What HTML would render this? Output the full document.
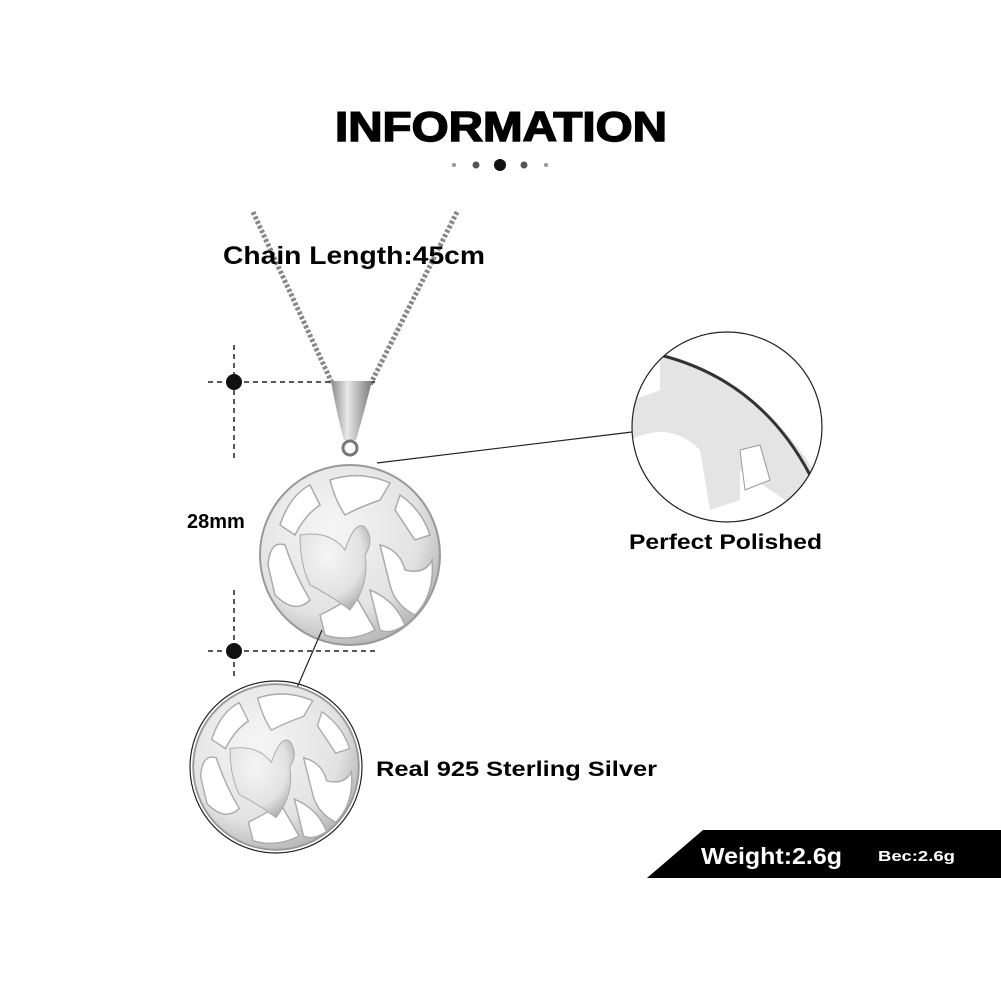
<!DOCTYPE html>
<html><head><meta charset="utf-8"><style>
html,body{margin:0;padding:0;background:#fff;}
svg{display:block}
text{font-family:"Liberation Sans",sans-serif;font-weight:bold;}
</style></head><body>
<svg width="1001" height="1001" viewBox="0 0 1001 1001" xmlns="http://www.w3.org/2000/svg">
<defs>
<radialGradient id="sil" cx="40%" cy="35%" r="70%">
<stop offset="0" stop-color="#f6f6f6"/><stop offset="0.7" stop-color="#e2e2e2"/><stop offset="1" stop-color="#b0b0b0"/>
</radialGradient>
<linearGradient id="bail" x1="0" x2="1"><stop offset="0" stop-color="#8a8a8a"/><stop offset="0.4" stop-color="#e8e8e8"/><stop offset="1" stop-color="#7a7a7a"/></linearGradient>
<g id="pend">
<circle cx="0" cy="0" r="90" fill="url(#sil)" stroke="#999" stroke-width="2"/>
<g fill="#fff" stroke="#aaa" stroke-width="1.5">
<path d="M-70,-30 Q-60,-60 -40,-70 L-30,-50 Q-45,-40 -55,-20 Z"/>
<path d="M-20,-75 Q10,-85 40,-72 L30,-55 Q10,-48 -5,-40 Q-15,-55 -20,-75 Z"/>
<path d="M50,-60 Q72,-45 80,-20 L65,-15 Q55,-30 45,-45 Z"/>
<path d="M-82,10 Q-80,-15 -65,-10 Q-55,20 -40,45 Q-55,60 -75,40 Z"/>
<path d="M30,-10 Q50,-5 55,15 Q75,20 82,5 Q85,40 65,60 Q45,50 40,30 Z"/>
<path d="M-30,60 Q-10,50 5,40 L25,75 Q0,88 -25,80 Z"/>
<path d="M20,35 Q45,45 55,70 Q40,80 30,75 Z"/>
</g>
<g fill="url(#sil)" stroke="#aaa" stroke-width="1"><path d="M-50,-20 Q-20,-25 -5,-5 Q5,-35 15,-28 Q25,-15 15,0 Q20,30 0,55 Q-20,40 -40,30 Q-50,10 -50,-20 Z"/></g>
</g>
</defs>

<text x="335" y="141" font-size="42" textLength="332" lengthAdjust="spacingAndGlyphs" stroke="#000" stroke-width="1.5">INFORMATION</text>
<circle cx="454" cy="165" r="2" fill="#999"/><circle cx="476" cy="165" r="3.5" fill="#555"/><circle cx="500" cy="165" r="6" fill="#111"/><circle cx="524" cy="165" r="3.5" fill="#555"/><circle cx="546" cy="165" r="2" fill="#999"/>

<!-- chain -->
<path d="M253,212 L332,383" stroke="#888" stroke-width="5" stroke-dasharray="3 2"/>
<path d="M457,212 L370,385" stroke="#888" stroke-width="5" stroke-dasharray="3 2"/>
<text x="223" y="264" font-size="25" textLength="262" lengthAdjust="spacingAndGlyphs">Chain Length:45cm</text>

<!-- dimension lines -->
<g stroke="#222" stroke-width="1.5" stroke-dasharray="5 4" fill="none">
<line x1="234" y1="345" x2="234" y2="462"/><line x1="208" y1="382" x2="375" y2="382"/>
<line x1="234" y1="590" x2="234" y2="680"/><line x1="208" y1="651" x2="375" y2="651"/>
</g>
<circle cx="234" cy="382" r="8" fill="#111"/><circle cx="234" cy="651" r="8" fill="#111"/>
<text x="187" y="528" font-size="20">28mm</text>

<!-- bail -->
<path d="M331,381 L372,381 Q362,420 356,440 L344,440 Q338,420 331,381 Z" fill="url(#bail)"/>
<circle cx="350" cy="448" r="7" fill="none" stroke="#777" stroke-width="3"/>

<!-- main pendant -->
<use href="#pend" transform="translate(350,555)"/>

<!-- connectors -->
<line x1="377" y1="463" x2="632" y2="432" stroke="#222" stroke-width="1.2"/>
<line x1="322" y1="630" x2="293" y2="697" stroke="#222" stroke-width="1.2"/>

<!-- detail circle -->
<clipPath id="cl"><circle cx="727" cy="427" r="95"/></clipPath>
<g clip-path="url(#cl)">
<rect x="630" y="330" width="200" height="200" fill="#fff"/>
<path d="M660,355 Q760,380 820,480 L800,510 Q740,470 740,470 L740,500 L710,510 L700,450 Q670,420 630,440 L630,400 Q650,395 660,390 Z" fill="#e4e4e4"/>
<path d="M660,355 Q760,380 810,475" stroke="#333" stroke-width="3" fill="none"/>
<path d="M740,450 L760,445 L770,480 L745,490 Z" fill="#fff" stroke="#999"/>
</g>
<circle cx="727" cy="427" r="95" fill="none" stroke="#222" stroke-width="1.2"/>
<text x="629" y="549" font-size="21" textLength="193" lengthAdjust="spacingAndGlyphs">Perfect  Polished</text>

<!-- bottom circle -->
<use href="#pend" transform="translate(276,767) scale(0.92)"/>
<circle cx="276" cy="767" r="86" fill="none" stroke="#222" stroke-width="1.2"/>
<text x="376" y="776" font-size="21" textLength="281" lengthAdjust="spacingAndGlyphs">Real 925  Sterling  Silver</text>

<!-- weight banner -->
<path d="M703,830 L1001,830 L1001,878 L647,878 Z" fill="#000"/>
<text x="701" y="864" font-size="23" fill="#fff" textLength="141" lengthAdjust="spacingAndGlyphs">Weight:2.6g</text>
<text x="878" y="861" font-size="15" fill="#fff" textLength="77" lengthAdjust="spacingAndGlyphs">Вес:2.6g</text>
</svg>
</body></html>
